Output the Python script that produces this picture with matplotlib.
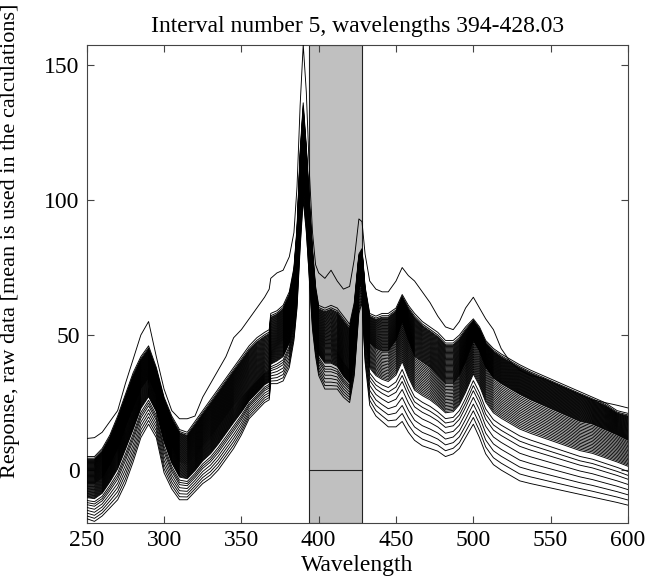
import numpy as np
import matplotlib
matplotlib.use("Agg")
import matplotlib.pyplot as plt

plt.rcParams['font.family'] = ['Liberation Serif', 'DejaVu Serif']

# wavelength grid (nm)
wl = [250, 255, 260, 265, 270, 275, 280, 285, 290, 295, 300, 305, 310, 315,
      320, 325, 330, 335, 340, 345, 350, 355, 360, 365, 368, 369, 373, 377,
      381, 384, 386, 388, 390, 392, 394, 396, 398, 400, 404, 408, 412, 416,
      420, 423, 426, 428, 430, 433, 437, 441, 445, 450, 454, 458, 462, 467,
      472, 477, 482, 487, 491, 495, 500, 504, 508, 513, 518, 524, 530, 537,
      545, 553, 561, 569, 577, 585, 593, 600]

# single high spectrum
top_curve = [11.7, 12, 14, 18, 22, 32, 41, 50, 55, 42, 30, 22, 19, 19,
             20, 27, 32, 37, 42, 49, 52, 56, 60, 64, 67, 71, 73, 74,
             79, 88, 105, 135, 157.5, 140, 110, 88, 76, 73, 71, 74, 70, 67,
             68, 78, 93, 92, 80, 70, 67, 66, 66, 70, 75, 72, 70, 66,
             62, 57, 53, 52, 55, 60, 64, 60, 56, 52, 45, 40, 37, 35,
             34, 32, 30, 28, 26, 25, 24, 23]

# upper edge of the main bundle
bulk_hi = [5, 5, 8, 13, 20, 28, 36, 42, 46, 38, 27, 20, 15, 14,
           18, 22, 26, 30, 34, 38, 42, 46, 49, 51, 52, 58, 59, 61,
           66, 75, 90, 118, 136, 120, 100, 82, 68, 61, 60, 61, 60, 57,
           54, 62, 80, 82, 68, 58, 57, 58, 58, 60, 65, 61, 58, 55,
           53, 51, 48, 48, 50, 53, 56, 53, 48, 45, 43, 41, 39, 37,
           35, 33, 31, 29, 27, 25, 22, 21]

# centre of the main bundle
bulk_mid = [-5, -5, -3, 2, 8, 16, 23, 30, 34, 28, 18, 9, 3, 2,
            5, 9, 12, 16, 20, 24, 27, 30, 33, 36, 37, 44, 46, 48,
            53, 62, 75, 100, 118, 105, 85, 68, 55, 48, 46, 46, 44, 40,
            37, 48, 72, 75, 58, 47, 45, 44, 44, 48, 55, 48, 42, 40,
            38, 35, 32, 32, 35, 40, 48, 44, 38, 34, 32, 30, 28, 26,
            24, 22, 20, 18, 17, 15, 13, 11]

# lowest spectra
bulk_lo = [-18, -19, -17, -14, -11, -5, 3, 12, 17, 12, -1, -7, -11, -11,
           -8, -5, -3, 0, 4, 8, 13, 19, 22, 25, 26, 32, 32, 33,
           38, 48, 60, 82, 100, 88, 70, 52, 42, 35, 30, 30, 30, 27,
           25, 35, 58, 62, 40, 24, 20, 18, 16, 16, 18, 14, 11, 9,
           8, 7, 5, 6, 8, 12, 17, 12, 6, 2, 0, -2, -4, -5,
           -6, -7, -8, -9, -10, -11, -12, -13]

# position of each spectrum inside the bundle (0 = lowest, 0.5 = centre, 1 = upper edge)
level_left = [0.00, 0.04, 0.08, 0.12, 0.16, 0.20, 0.23, 0.26,
              0.30, 0.31, 0.32, 0.33, 0.34, 0.35, 0.36, 0.37, 0.38, 0.39,
              0.40, 0.41, 0.42, 0.43, 0.44, 0.45, 0.46, 0.47, 0.48, 0.49,
              0.50, 0.51, 0.52, 0.53, 0.54, 0.55, 0.56, 0.57, 0.58, 0.59,
              0.60, 0.61, 0.62, 0.63, 0.64, 0.65, 0.66, 0.67, 0.68, 0.69,
              0.70, 0.71, 0.72, 0.73, 0.74, 0.75, 0.76, 0.77, 0.78, 0.79,
              0.80, 0.81, 0.82, 0.83, 0.84, 0.85, 0.86, 0.87, 0.88, 0.89,
              0.90, 0.91, 0.92, 0.93, 0.94, 0.95, 0.97, 1.00]
level_right = [0.04, 0.00, 0.12, 0.08, 0.20, 0.16, 0.26, 0.23,
               0.32, 0.30, 0.34, 0.31, 0.36, 0.33, 0.38, 0.35, 0.39, 0.37,
               0.42, 0.40, 0.44, 0.41, 0.46, 0.43, 0.48, 0.45, 0.47, 0.49,
               0.52, 0.50, 0.54, 0.51, 0.56, 0.53, 0.58, 0.55, 0.57, 0.59,
               0.62, 0.60, 0.64, 0.61, 0.66, 0.63, 0.68, 0.65, 0.67, 0.69,
               0.72, 0.70, 0.74, 0.71, 0.76, 0.73, 0.78, 0.75, 0.77, 0.79,
               0.82, 0.80, 0.84, 0.81, 0.86, 0.83, 0.88, 0.85, 0.87, 0.89,
               0.92, 0.90, 0.94, 0.91, 0.93, 0.97, 0.95, 1.00]

interval = (394, 428.03)

wl = np.array(wl, dtype=float)
hi = np.array(bulk_hi, dtype=float)
mid = np.array(bulk_mid, dtype=float)
lo = np.array(bulk_lo, dtype=float)


def mix(level):
    if level < 0.5:
        return lo + (level / 0.5) * (mid - lo)
    return mid + ((level - 0.5) / 0.5) * (hi - mid)


fig = plt.figure(figsize=(6.62, 5.81), dpi=100)
ax = fig.add_axes([0.131, 0.1003, 0.8176, 0.8227])

ax.axvspan(interval[0], interval[1], facecolor='#c0c0c0', edgecolor='#222222',
           linewidth=0.8, zorder=1)
ax.plot(interval, [0, 0], color='#222222', linewidth=0.8, zorder=2)

left = wl <= 392
for la, lb in zip(level_left, level_right):
    y = np.where(left, mix(la), mix(lb))
    ax.plot(wl, y, color='black', linewidth=0.65, zorder=3)
ax.plot(wl, top_curve, color='black', linewidth=0.65, zorder=3)

ax.set_xlim(250, 600)
ax.set_ylim(-19.5, 157.5)
ax.set_xticks([250, 300, 350, 400, 450, 500, 550, 600])
ax.set_yticks([0, 50, 100, 150])
ax.tick_params(direction='in', top=True, right=True, length=5, width=0.8,
               labelsize=17, color='#444444', pad=5)
for s in ax.spines.values():
    s.set_color('#444444')
    s.set_linewidth(0.8)

ax.set_title('Interval number 5, wavelengths 394-428.03', fontsize=17, pad=9)
ax.set_xlabel('Wavelength', fontsize=17, labelpad=3)
ax.set_ylabel('Response, raw data [mean is used in the calculations]',
              fontsize=16)
ax.yaxis.set_label_coords(-0.123, 0.59)

fig.savefig('out.png', dpi=100)
